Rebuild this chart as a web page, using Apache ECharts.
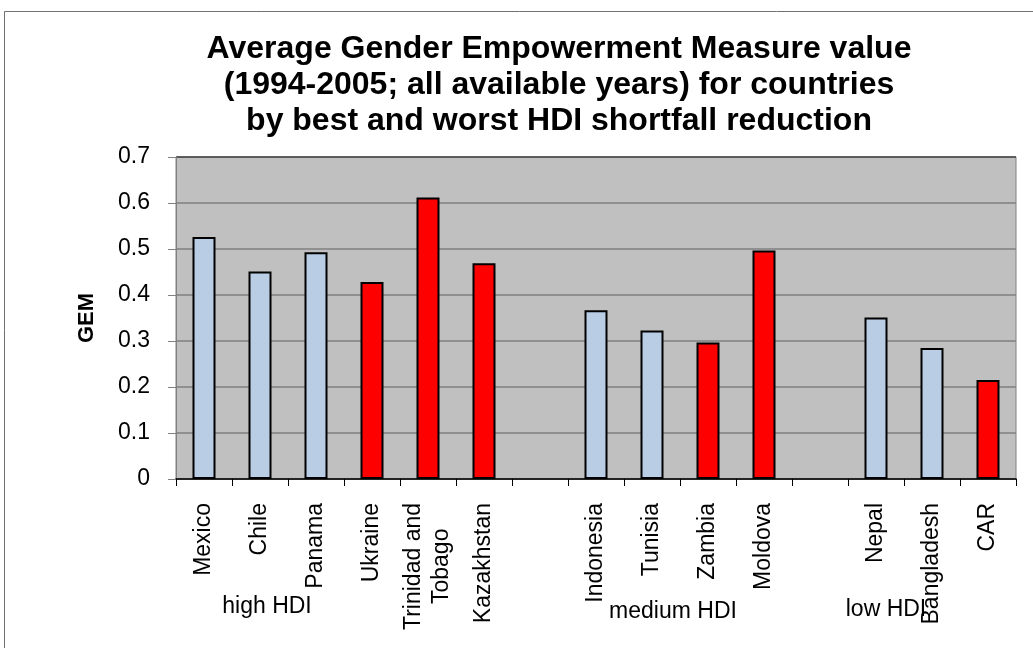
<!DOCTYPE html>
<html>
<head>
<meta charset="utf-8">
<title>Average GEM by HDI shortfall reduction</title>
<script src="https://cdn.jsdelivr.net/npm/echarts@6/dist/echarts.min.js"></script>
<style>
  html, body { margin: 0; padding: 0; background: #fff; }
  #main { width: 1033px; height: 648px; }
</style>
</head>
<body>
<div id="main"></div>
<script>
// categories, blank slots separate the HDI groups
var categories = ['Mexico', 'Chile', 'Panama', 'Ukraine', 'Trinidad and\nTobago', 'Kazakhstan', '',
                  'Indonesia', 'Tunisia', 'Zambia', 'Moldova', '',
                  'Nepal', 'Bangladesh', 'CAR'];
var gemValues = [0.526, 0.451, 0.493, 0.428, 0.612, 0.469, null,
                 0.367, 0.323, 0.297, 0.497, null,
                 0.351, 0.285, 0.215];
// best / worst HDI shortfall reduction
var reduction = ['best', 'best', 'best', 'worst', 'worst', 'worst', null,
                 'best', 'best', 'worst', 'worst', null,
                 'best', 'best', 'worst'];
var groupLabels = ['high HDI', 'medium HDI', 'low HDI'];
var yTicks = [0, 0.1, 0.2, 0.3, 0.4, 0.5, 0.6, 0.7];
var titleText = 'Average Gender Empowerment Measure value\n(1994-2005; all available years) for countries\nby best and worst HDI shortfall reduction';

var FONT = '"Liberation Sans", Arial, sans-serif';
var LABEL_SIZE = 23;
var groupPos = [[267, 607], [673, 612], [886, 610]];

// centre the lines of a multi-line rotated label by padding shorter ones
var ctx = document.createElement('canvas').getContext('2d');
ctx.font = LABEL_SIZE + 'px ' + FONT;
function padLines(label) {
    if (label.indexOf('\n') < 0) return label;
    var lines = label.split('\n');
    var widths = lines.map(function (l) { return ctx.measureText(l).width; });
    var maxW = Math.max.apply(null, widths);
    var sp = ctx.measureText(' ').width;
    return lines.map(function (l, i) {
        var n = Math.round((maxW - widths[i]) / 2 / sp);
        return l + new Array(n + 1).join(' ');
    }).join('\n');
}

var myChart = echarts.init(document.getElementById('main'));

var graphics = [{
    type: 'rect',
    shape: { x: 4.5, y: 11.5, width: 1100, height: 700 },
    style: { fill: 'none', stroke: '#707070', lineWidth: 1 },
    silent: true
}, {
    type: 'text',
    x: 559,
    y: 31,
    style: {
        text: titleText,
        font: 'bold 32px ' + FONT,
        fill: '#000',
        align: 'center',
        verticalAlign: 'top',
        lineHeight: 36
    }
}];
for (var g = 0; g < groupLabels.length; g++) {
    graphics.push({
        type: 'text',
        x: groupPos[g][0],
        y: groupPos[g][1],
        style: {
            text: groupLabels[g],
            font: LABEL_SIZE + 'px ' + FONT,
            fill: '#000',
            align: 'center',
            verticalAlign: 'middle'
        }
    });
}

var option = {
    animation: false,
    graphic: graphics,
    grid: {
        left: 176,
        right: 17,
        top: 157,
        bottom: 169,
        show: true,
        backgroundColor: '#C0C0C0',
        borderColor: '#808080',
        borderWidth: 1
    },
    xAxis: {
        type: 'category',
        data: categories,
        axisLine: { lineStyle: { color: '#000', width: 1.5 } },
        axisTick: { show: true, interval: 0, length: 7, lineStyle: { color: '#000', width: 1 } },
        axisLabel: {
            interval: 0,
            rotate: 90,
            margin: 24,
            fontFamily: FONT,
            fontSize: LABEL_SIZE,
            color: '#000',
            lineHeight: 28,
            formatter: padLines
        }
    },
    yAxis: {
        type: 'value',
        min: yTicks[0],
        max: yTicks[yTicks.length - 1],
        interval: 0.1,
        name: 'GEM',
        nameLocation: 'middle',
        nameRotate: 90,
        nameGap: 78,
        nameTextStyle: { fontFamily: FONT, fontSize: 22, fontWeight: 'bold', color: '#000' },
        axisLine: { show: true, lineStyle: { color: '#808080', width: 1 } },
        axisTick: { show: true, length: 8, lineStyle: { color: '#808080' } },
        axisLabel: {
            margin: 26,
            fontFamily: FONT,
            fontSize: LABEL_SIZE,
            color: '#000',
            formatter: function (v) { return String(Math.round(v * 10) / 10); }
        },
        splitLine: {
            show: true,
            lineStyle: {
                color: ['#808080', '#808080', '#808080', '#808080', '#808080', '#808080', '#808080', '#404040'],
                width: 1.5
            }
        }
    },
    series: [{
        name: 'GEM',
        type: 'bar',
        data: gemValues,
        barWidth: 23,
        itemStyle: {
            color: function (p) {
                return reduction[p.dataIndex] === 'worst' ? '#FF0000' : '#B9CDE5';
            },
            borderColor: '#000',
            borderWidth: 2
        }
    }]
};
myChart.setOption(option);
</script>
</body>
</html>
